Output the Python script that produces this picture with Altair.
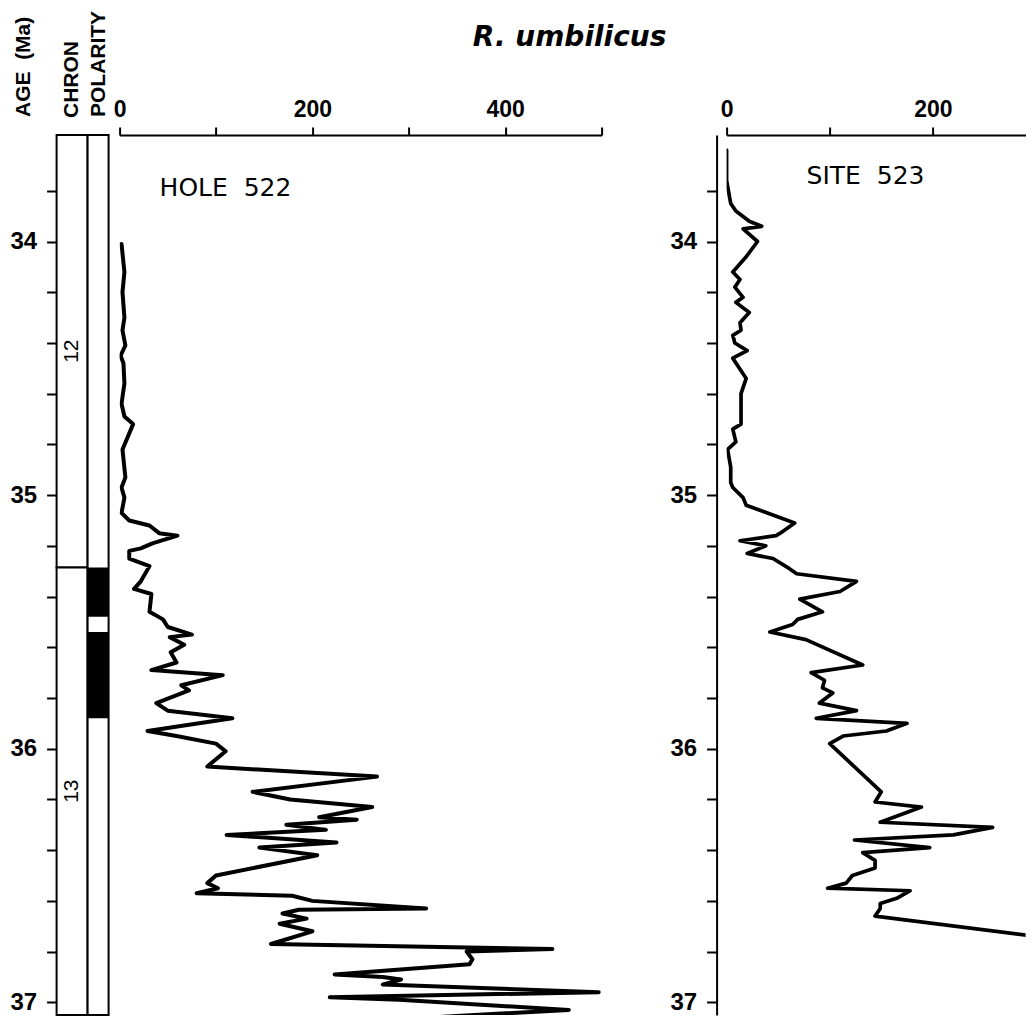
import altair as alt
import pandas as pd

AGE_TOP = 33.58
AGE_BASE = 37.05

# Hole 522 R. umbilicus counts (age Ma, value)
hole_age = [34.01, 34.12, 34.20, 34.30, 34.35, 34.41, 34.45, 34.48, 34.56, 34.64,
            34.69, 34.72, 34.82, 34.93, 34.97, 35.01, 35.07, 35.10, 35.12, 35.15,
            35.16, 35.19, 35.21, 35.22, 35.25, 35.28, 35.34, 35.37, 35.39, 35.46,
            35.49, 35.52, 35.55, 35.56, 35.59, 35.62, 35.66, 35.69, 35.71, 35.75,
            35.77, 35.82, 35.85, 35.88, 35.93, 35.95, 35.98, 36.01, 36.07, 36.11,
            36.17, 36.20, 36.23, 36.27, 36.28, 36.30, 36.32, 36.34, 36.37, 36.39,
            36.42, 36.50, 36.53, 36.55, 36.57, 36.58, 36.60, 36.63, 36.635, 36.65,
            36.67, 36.69, 36.72, 36.77, 36.79, 36.80, 36.83, 36.85, 36.89, 36.90,
            36.91, 36.93, 36.96, 36.98, 36.99, 37.03, 37.06]
hole_val = [2, 5, 3, 5, 3, 6, 1, 4, 5, 2,
            5, 14, 3, 6, 2, 5, 2, 10, 31, 41,
            60, 34, 22, 10, 10, 31, 22, 15, 33, 31,
            45, 50, 75, 52, 67, 53, 59, 33, 107, 64,
            72, 38, 50, 117, 29, 59, 100, 110, 91, 267,
            138, 177, 262, 207, 246, 173, 214, 111, 225, 145,
            205, 100, 91, 102, 80, 179, 200, 318, 186, 169,
            194, 166, 200, 157, 449, 360, 366, 363, 223, 273,
            292, 273, 497, 218, 290, 466, 321]

# Site 523 R. umbilicus counts (age Ma, value)
site_age = [33.64, 33.76, 33.85, 33.88, 33.92, 33.94, 33.95, 34.00, 34.06, 34.12,
            34.15, 34.18, 34.22, 34.24, 34.28, 34.32, 34.35, 34.37, 34.40, 34.43,
            34.46, 34.54, 34.60, 34.72, 34.74, 34.79, 34.82, 34.89, 34.95, 34.97,
            35.01, 35.04, 35.11, 35.15, 35.16, 35.18, 35.20, 35.23, 35.25, 35.29,
            35.31, 35.34, 35.38, 35.41, 35.46, 35.49, 35.51, 35.54, 35.57, 35.67,
            35.70, 35.73, 35.76, 35.78, 35.82, 35.85, 35.88, 35.90, 35.93, 35.95,
            35.98, 36.17, 36.21, 36.23, 36.29, 36.31, 36.34, 36.36, 36.39, 36.41,
            36.44, 36.47, 36.50, 36.53, 36.55, 36.56, 36.59, 36.61, 36.63, 36.66,
            36.75]
site_val = [0, 0, 4, 9, 22, 34, 16, 30, 19, 6,
            13, 8, 16, 9, 22, 13, 14, 6, 8, 20,
            6, 19, 14, 14, 6, 9, 1, 4, 4, 6,
            16, 19, 66, 52, 48, 13, 38, 20, 45, 61,
            68, 126, 110, 71, 93, 69, 64, 42, 77, 132,
            82, 95, 93, 103, 90, 126, 87, 175, 155, 113,
            100, 150, 144, 189, 149, 258, 220, 124, 197, 132,
            144, 144, 122, 116, 98, 178, 165, 149, 149, 144,
            320]

chron_label = ["12", "13"]
chron_top = [AGE_TOP, 35.285]
chron_base = [35.285, AGE_BASE]

normal_top = [35.285, 35.54]
normal_base = [35.48, 35.88]

age_ticks = [33.8, 34.0, 34.2, 34.4, 34.6, 34.8, 35.0, 35.2, 35.4, 35.6, 35.8,
             36.0, 36.2, 36.4, 36.6, 36.8, 37.0]
hole_ticks = [0, 100, 200, 300, 400, 500]
site_ticks = [0, 100, 200]

headers = ["AGE\u00a0 (Ma)", "CHRON", "POLARITY"]
title_text = "R. umbilicus"
panel_names = ["HOLE\u00a0 522", "SITE\u00a0 523"]

NUM_FONT = "Liberation Sans"
HEAD_FONT = "Liberation Sans"
PANEL_FONT = "DejaVu Sans"

H = 880

yscale = alt.Scale(domain=[AGE_TOP, AGE_BASE], reverse=True, nice=False, zero=False)

def age_axis(offset=0):
    return alt.Axis(values=age_ticks, title=None, grid=False,
                    labelExpr="abs(datum.value - round(datum.value)) < 0.001 ? '' + round(datum.value) : ''",
                    tickSize=10, tickWidth=2, domainWidth=2, offset=offset,
                    domainColor="black", tickColor="black", labelColor="black",
                    labelFont=NUM_FONT, labelFontSize=24, labelFontWeight="bold",
                    labelPadding=10, labelOverlap=False, labelFlush=False)

def top_axis(ticks, expr):
    return alt.Axis(orient="top", values=ticks, title=None, grid=False,
                    labelExpr=expr, tickSize=8, tickWidth=2, domainWidth=2,
                    domainColor="black", tickColor="black", labelColor="black",
                    labelFont=NUM_FONT, labelFontSize=23, labelFontWeight="bold",
                    labelPadding=6, labelOverlap=False, labelFlush=False)

def text_layer(txt, x, y, **kw):
    return alt.Chart(pd.DataFrame({"t": [txt]})).mark_text(**kw).encode(
        x=alt.value(x), y=alt.value(y), text="t:N")

# ---------- left column: chron / polarity ----------
chron_df = pd.DataFrame({"chron": chron_label, "top": chron_top, "base": chron_base})
col_df = pd.DataFrame({"top": [AGE_TOP], "base": [AGE_BASE]})
norm_df = pd.DataFrame({"top": normal_top, "base": normal_base})

chron_rect = alt.Chart(chron_df).mark_rect(fill="white", stroke="black", strokeWidth=2).encode(
    x=alt.value(0), x2=alt.value(31),
    y=alt.Y("top:Q", scale=yscale, axis=age_axis()), y2="base:Q")
chron_txt = alt.Chart(chron_df).transform_calculate(
    mid="(datum.top + datum.base) / 2").mark_text(
    angle=270, font=HEAD_FONT, fontSize=21, color="black").encode(
    x=alt.value(15.5), y=alt.Y("mid:Q", scale=yscale, axis=age_axis()), text="chron:N")
pol_col = alt.Chart(col_df).mark_rect(fill="white", stroke="black", strokeWidth=2).encode(
    x=alt.value(31), x2=alt.value(52),
    y=alt.Y("top:Q", scale=yscale, axis=age_axis()), y2="base:Q")
pol_norm = alt.Chart(norm_df).mark_rect(fill="black").encode(
    x=alt.value(31), x2=alt.value(52),
    y=alt.Y("top:Q", scale=yscale, axis=age_axis()), y2="base:Q")

head_kw = dict(angle=270, align="left", baseline="middle", font=HEAD_FONT,
               fontSize=21, fontWeight="bold", color="black")
h_age = text_layer(headers[0], -33, -18, **head_kw)
h_chron = text_layer(headers[1], 15.5, -17, **head_kw)
h_pol = text_layer(headers[2], 42, -18, **head_kw)

left = alt.layer(chron_rect, pol_col, pol_norm, chron_txt, h_age, h_chron, h_pol).properties(
    width=52, height=H)

# ---------- Hole 522 ----------
hole_df = pd.DataFrame({"age": hole_age, "val": hole_val})
hole_df["seq"] = range(len(hole_df))
hole_line = alt.Chart(hole_df).mark_line(
    color="black", strokeWidth=4, strokeJoin="round", strokeCap="round", clip=True).encode(
    x=alt.X("val:Q", scale=alt.Scale(domain=[0, 500], nice=False, zero=False),
            axis=top_axis(hole_ticks, "datum.value % 200 == 0 ? datum.label : ''")),
    y=alt.Y("age:Q", scale=yscale, axis=None),
    order=alt.Order("seq:Q"))
hole_name = text_layer(panel_names[0], 40, 53, align="left", baseline="middle",
                       font=PANEL_FONT, fontSize=25, color="black")
title = text_layer(title_text, 450, -97, align="center", baseline="middle",
                   font=PANEL_FONT, fontSize=28, fontStyle="italic",
                   fontWeight="bold", color="black")
hole = alt.layer(hole_line, hole_name, title).properties(width=482, height=H)

# empty spacer between the two panels
spacer = alt.Chart(pd.DataFrame({"t": [""]})).mark_text().encode(
    text="t:N").properties(width=103, height=H)

# ---------- Site 523 ----------
site_df = pd.DataFrame({"age": site_age, "val": site_val})
site_df["seq"] = range(len(site_df))
site_line = alt.Chart(site_df).mark_line(
    color="black", strokeWidth=3.7, strokeJoin="round", strokeCap="round", clip=True).encode(
    x=alt.X("val:Q", scale=alt.Scale(domain=[0, 290], nice=False, zero=False),
            axis=top_axis(site_ticks, "datum.value % 200 == 0 ? datum.label : ''")),
    y=alt.Y("age:Q", scale=yscale, axis=age_axis(offset=10)),
    order=alt.Order("seq:Q"))
site_name = text_layer(panel_names[1], 80, 41, align="left", baseline="middle",
                       font=PANEL_FONT, fontSize=25, color="black")
site = alt.layer(site_line, site_name).properties(width=299, height=H)

chart = alt.hconcat(left, hole, spacer, site, spacing=11, bounds="flush").properties(
    padding={"left": 1.6, "top": 2, "right": 0, "bottom": 0}
).configure(background="white").configure_view(strokeWidth=0, stroke="transparent")

chart.save("out.html", embed_options={"renderer": "svg", "actions": False})
